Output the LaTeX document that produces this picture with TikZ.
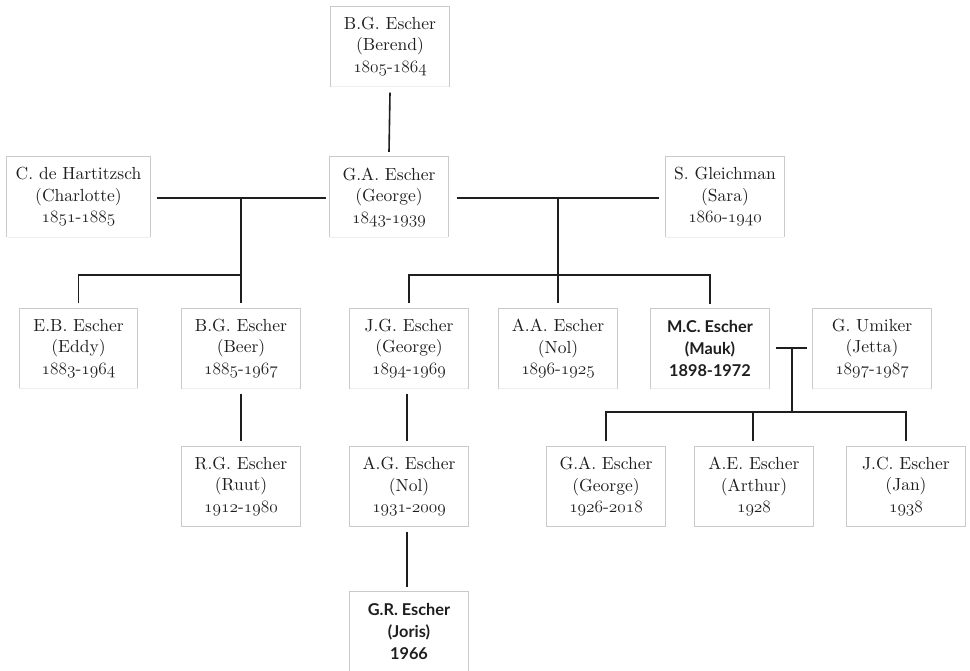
\documentclass[tikz,border=0pt]{standalone}
\usepackage{fontspec}
\setmainfont{lmroman10-regular}[Extension=.otf]
\newfontfamily\boldsans{Lato}
\definecolor{boxgray}{HTML}{CACACA}
\definecolor{boxfaint}{HTML}{EEEEEE}
\definecolor{ink}{HTML}{1E1E1E}
\newcommand\osd[1]{{\fontencoding{OML}\fontfamily{lmm}\fontseries{m}\fontshape{it}\selectfont #1}}
\newcommand\yrs[2]{\osd{#1}-\osd{#2}}
\begin{document}
\begin{tikzpicture}[x=1pt,y=-1pt,
  person/.style={draw=none, minimum width=118pt, minimum height=80pt, inner sep=0pt,
    align=center, text=ink, font=\fontsize{17.5}{21.5}\selectfont,
    execute at begin node={\rule{0pt}{17.5pt}}},
  hl/.style={font=\boldsans\bfseries\fontsize{16.3}{22}\selectfont},
  link/.style={draw=ink, line width=1.6pt},
  side/.style={draw=boxgray, line width=1.3pt},
  bottomline/.style={draw=boxfaint, line width=1.3pt},
  fullbottom/.style={draw=boxgray, line width=1.3pt}]
\useasboundingbox (0,0) rectangle (970,671);
% row 0
\node[person] (berend) at (390,46.5) {B.G. Escher\\(Berend)\\\yrs{1805}{1864}};
% row 1
\node[person, minimum width=143pt] (charlotte) at (78.5,197) {C. de Hartitzsch\\(Charlotte)\\\yrs{1851}{1885}};
\node[person] (george) at (389,197) {G.A. Escher\\(George)\\\yrs{1843}{1939}};
\node[person] (sara) at (725,197) {S. Gleichman\\(Sara)\\\yrs{1860}{1940}};
% row 2
\node[person] (eddy) at (78.5,348.5) {E.B. Escher\\(Eddy)\\\yrs{1883}{1964}};
\node[person] (beer) at (241,348.5) {B.G. Escher\\(Beer)\\\yrs{1885}{1967}};
\node[person] (jg) at (409,348.5) {J.G. Escher\\(George)\\\yrs{1894}{1969}};
\node[person] (aa) at (558,348.5) {A.A. Escher\\(Nol)\\\yrs{1896}{1925}};
\node[person, hl] (mc) at (710,348.5) {M.C. Escher\\(Mauk)\\1898-1972};
\node[person] (jetta) at (872,348.5) {G. Umiker\\(Jetta)\\\yrs{1897}{1987}};
% row 3
\node[person] (ruut) at (241,486.5) {R.G. Escher\\(Ruut)\\\yrs{1912}{1980}};
\node[person] (nol) at (409,486.5) {A.G. Escher\\(Nol)\\\yrs{1931}{2009}};
\node[person] (gac) at (606,486.5) {G.A. Escher\\(George)\\\yrs{1926}{2018}};
\node[person] (ae) at (754,486.5) {A.E. Escher\\(Arthur)\\\osd{1928}};
\node[person] (jc) at (906,486.5) {J.C. Escher\\(Jan)\\\osd{1938}};
% row 4
\node[person, hl] (gr) at (409,632) {G.R. Escher\\(Joris)\\1966};
% box outlines
\foreach \n in {berend,charlotte,george,sara,eddy,beer,jg,aa,mc,jetta,ruut,nol,gac,ae,jc,gr}{
  \draw[side] (\n.south west) -- (\n.north west) -- (\n.north east) -- (\n.south east);
}
\foreach \n in {berend,charlotte,george,sara,eddy,beer,jg,aa,mc,jetta}{
  \draw[bottomline] (\n.south west) -- (\n.south east);
}
\foreach \n in {ruut,nol,gac,ae,jc}{
  \draw[fullbottom] (\n.south west) -- (\n.south east);
}
% junction coordinates
\coordinate (m1) at (241,198);
\coordinate (b1) at (241,275);
\coordinate (m2) at (558,198);
\coordinate (b2) at (558,275);
\coordinate (m3) at (792,348);
\coordinate (b3) at (792,412);
% connectors
\draw[link] ([yshift=-6pt]berend.south) -- ([yshift=5pt]george.north);
\draw[link] ([xshift=7pt,yshift=-1pt]charlotte.east) -- ([xshift=-4pt,yshift=-1pt]george.west);
\draw[link] ([xshift=9pt,yshift=-1pt]george.east) -- ([xshift=-7pt,yshift=-1pt]sara.west);
\draw[link] (m1) -- (b1);
\draw[link] ([yshift=5pt]eddy.north) |- (b1) -| ([yshift=5pt]beer.north);
\draw[link] (m2) -- (b2);
\draw[link] ([yshift=5pt]jg.north) |- (b2) -| ([yshift=4pt]mc.north);
\draw[link] (b2) -- ([yshift=5pt]aa.north);
\draw[link] ([xshift=7pt]mc.east |- m3) -- ([xshift=-6pt]jetta.west |- m3);
\draw[link] (m3) -- (b3);
\draw[link] ([yshift=5pt]gac.north) |- (b3) -| ([yshift=5pt]jc.north);
\draw[link] ([xshift=-1pt]ae.north |- b3) -- ([xshift=-1pt,yshift=5pt]ae.north);
\draw[link] ([yshift=-5pt]beer.south) -- ([yshift=5pt]ruut.north);
\draw[link] ([xshift=-2pt,yshift=-5pt]jg.south) -- ([xshift=-2pt,yshift=5pt]nol.north);
\draw[link] ([xshift=-2pt,yshift=-5pt]nol.south) -- ([xshift=-2pt,yshift=5pt]gr.north);
\end{tikzpicture}
\end{document}
